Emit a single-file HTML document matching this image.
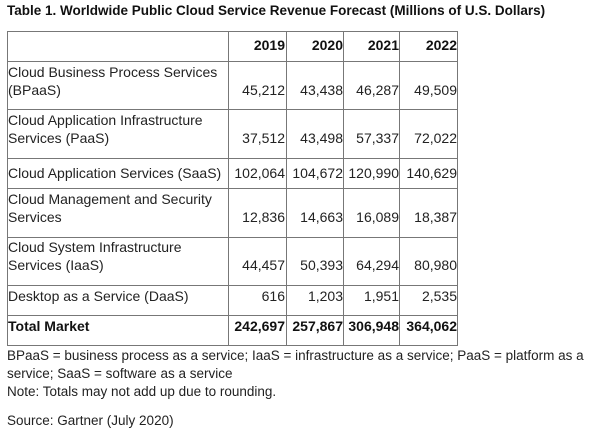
<!DOCTYPE html>
<html><head><style>
body{margin:0;width:600px;height:432px;background:#fff;font-family:"Liberation Sans",sans-serif;color:#222;position:relative;overflow:hidden}
.t{position:absolute;left:7px;top:3px;font-weight:bold;font-size:13.5px;letter-spacing:0;color:#111}
.ln{position:absolute;background:#777}
.c{position:absolute;font-size:14px;white-space:nowrap;line-height:18px;letter-spacing:0}
.r{text-align:right}
.b{font-weight:bold;color:#111}
.f{position:absolute;left:7px;font-size:13.5px;line-height:18px;letter-spacing:0;white-space:nowrap}
</style></head><body>
<div class="t">Table 1. Worldwide Public Cloud Service Revenue Forecast (Millions of U.S. Dollars)</div>
<div class="ln" style="left:7px;width:451px;top:31px;height:1px"></div>
<div class="ln" style="left:7px;width:451px;top:61px;height:1px"></div>
<div class="ln" style="left:7px;width:451px;top:109px;height:1px"></div>
<div class="ln" style="left:7px;width:451px;top:158px;height:1px"></div>
<div class="ln" style="left:7px;width:451px;top:188px;height:1px"></div>
<div class="ln" style="left:7px;width:451px;top:237px;height:1px"></div>
<div class="ln" style="left:7px;width:451px;top:285px;height:1px"></div>
<div class="ln" style="left:7px;width:451px;top:315px;height:1px"></div>
<div class="ln" style="left:7px;width:451px;top:345px;height:1px"></div>
<div class="ln" style="left:7px;top:31px;width:1px;height:315px"></div>
<div class="ln" style="left:228px;top:31px;width:1px;height:315px"></div>
<div class="ln" style="left:286px;top:31px;width:1px;height:315px"></div>
<div class="ln" style="left:343px;top:31px;width:1px;height:315px"></div>
<div class="ln" style="left:399px;top:31px;width:1px;height:315px"></div>
<div class="ln" style="left:457px;top:31px;width:1px;height:315px"></div>

<div class="c r b" style="left:229px;width:56px;top:36px">2019</div>
<div class="c r b" style="left:287px;width:56px;top:36px">2020</div>
<div class="c r b" style="left:344px;width:55px;top:36px">2021</div>
<div class="c r b" style="left:400px;width:57px;top:36px">2022</div>

<div class="c" style="left:8px;top:63px">Cloud Business Process Services<br>(BPaaS)</div>
<div class="c" style="left:8px;top:111px">Cloud Application Infrastructure<br>Services (PaaS)</div>
<div class="c" style="left:8px;top:164px">Cloud Application Services (SaaS)</div>
<div class="c" style="left:8px;top:190px">Cloud Management and Security<br>Services</div>
<div class="c" style="left:8px;top:238px">Cloud System Infrastructure<br>Services (IaaS)</div>
<div class="c" style="left:8px;top:287px">Desktop as a Service (DaaS)</div>
<div class="c b" style="left:8px;top:317px">Total Market</div>

<div class="c r" style="left:229px;width:56px;top:81px">45,212</div>
<div class="c r" style="left:287px;width:56px;top:81px">43,438</div>
<div class="c r" style="left:344px;width:55px;top:81px">46,287</div>
<div class="c r" style="left:400px;width:57px;top:81px">49,509</div>

<div class="c r" style="left:229px;width:56px;top:129px">37,512</div>
<div class="c r" style="left:287px;width:56px;top:129px">43,498</div>
<div class="c r" style="left:344px;width:55px;top:129px">57,337</div>
<div class="c r" style="left:400px;width:57px;top:129px">72,022</div>

<div class="c r" style="left:229px;width:56px;top:164px">102,064</div>
<div class="c r" style="left:287px;width:56px;top:164px">104,672</div>
<div class="c r" style="left:344px;width:55px;top:164px">120,990</div>
<div class="c r" style="left:400px;width:57px;top:164px">140,629</div>

<div class="c r" style="left:229px;width:56px;top:208px">12,836</div>
<div class="c r" style="left:287px;width:56px;top:208px">14,663</div>
<div class="c r" style="left:344px;width:55px;top:208px">16,089</div>
<div class="c r" style="left:400px;width:57px;top:208px">18,387</div>

<div class="c r" style="left:229px;width:56px;top:256px">44,457</div>
<div class="c r" style="left:287px;width:56px;top:256px">50,393</div>
<div class="c r" style="left:344px;width:55px;top:256px">64,294</div>
<div class="c r" style="left:400px;width:57px;top:256px">80,980</div>

<div class="c r" style="left:229px;width:56px;top:287px">616</div>
<div class="c r" style="left:287px;width:56px;top:287px">1,203</div>
<div class="c r" style="left:344px;width:55px;top:287px">1,951</div>
<div class="c r" style="left:400px;width:57px;top:287px">2,535</div>

<div class="c r b" style="left:229px;width:56px;top:317px">242,697</div>
<div class="c r b" style="left:287px;width:56px;top:317px">257,867</div>
<div class="c r b" style="left:344px;width:55px;top:317px">306,948</div>
<div class="c r b" style="left:400px;width:57px;top:317px">364,062</div>

<div class="f" style="top:347px">BPaaS = business process as a service; IaaS = infrastructure as a service; PaaS = platform as a<br>service; SaaS = software as a service<br>Note: Totals may not add up due to rounding.</div>
<div class="f" style="top:412px">Source: Gartner (July 2020)</div>
</body></html>
